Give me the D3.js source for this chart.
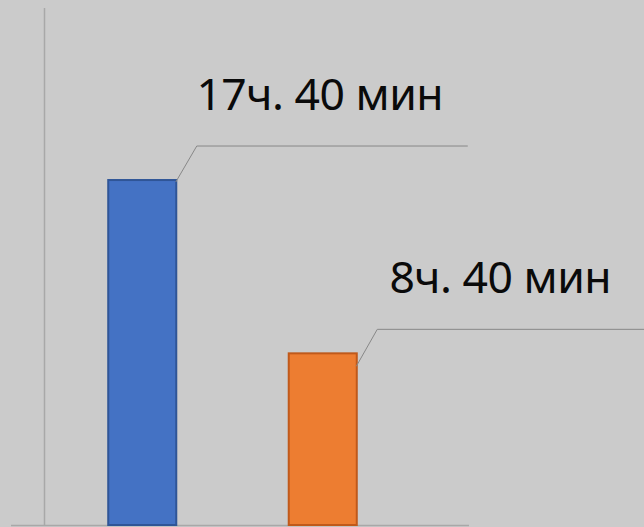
<!DOCTYPE html>
<html><head><meta charset="utf-8">
<script src="https://cdn.jsdelivr.net/npm/d3@7"></script>
<style>html,body{margin:0;padding:0;background:#cbcbcb;overflow:hidden}</style>
</head><body><svg id="c" width="644" height="527"></svg>
<script>
const categories = ["A", "B"];
const minutes = [1060, 529];
const labels = ["17ч. 40 мин", "8ч. 40 мин"];
const fills = ["#4472c4", "#ed7d31"];
const strokes = ["#2f5597", "#c0591a"];

const svg = d3.select("#c");
svg.append("rect").attr("width",644).attr("height",527).attr("fill","#cbcbcb");

const y = d3.scaleLinear().domain([0, 1584]).range([525, 8]);
const x = d3.scaleBand().domain(categories).range([52, 413]).paddingInner(0.612).paddingOuter(0.306);

// axes lines
svg.append("line").attr("x1",44.5).attr("x2",44.5).attr("y1",y(1584)).attr("y2",y(0))
  .attr("stroke","#a8a8a8").attr("stroke-width",1.5);
svg.append("line").attr("x1",11).attr("x2",469).attr("y1",y(0)+0.5).attr("y2",y(0)+0.5)
  .attr("stroke","#a8a8a8").attr("stroke-width",1.5);

const data = categories.map((c,i)=>({c, v:minutes[i], label:labels[i], fill:fills[i], stroke:strokes[i]}));

svg.selectAll("rect.bar").data(data).join("rect").attr("class","bar")
  .attr("x", d=>x(d.c)+1).attr("width", x.bandwidth()-2)
  .attr("y", d=>y(d.v)+1).attr("height", d=>y(0)-y(d.v)-1)
  .attr("fill", d=>d.fill).attr("stroke", d=>d.stroke).attr("stroke-width",2);

// leader lines
const leaders = [
  {dy0:3, dyE:-33},
  {dy0:14, dyE:-23}
];
data.forEach((d,i)=>{
  const rx = x(d.c)+x.bandwidth()-1.5;
  const top = y(d.v);
  const ex = rx + 21, ey = top + leaders[i].dyE;
  svg.append("polyline")
    .attr("points", `${rx},${top+leaders[i].dy0} ${ex},${ey} ${ex+271},${ey}`)
    .attr("fill","none").attr("stroke","#888888").attr("stroke-width",1);
  svg.append("text").attr("x", rx+144).attr("y", ey-36)
    .attr("text-anchor","middle").attr("font-family","'Noto Sans', 'Open Sans', sans-serif")
    .attr("font-size",44.5).attr("letter-spacing",-0.5).attr("fill","#0a0a0a").text(d.label);
});
</script></body></html>
